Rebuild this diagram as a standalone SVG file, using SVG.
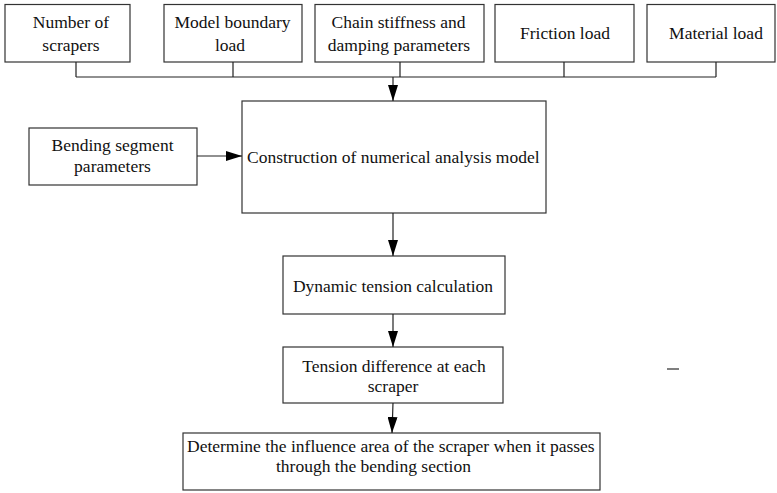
<svg xmlns="http://www.w3.org/2000/svg" width="777" height="493" viewBox="0 0 777 493">
<style>
.box{fill:#fff;stroke:#333;stroke-width:1.2}
text{font-family:'Liberation Serif', 'Times New Roman', Times, 'DejaVu Serif', serif;font-size:17.5px;fill:#111}
.c{text-anchor:middle}
.ln{fill:none;stroke:#222;stroke-width:1.2}
</style>
<defs>
<marker id="ah" markerWidth="16" markerHeight="10" refX="16" refY="5" viewBox="0 0 16 10" markerUnits="userSpaceOnUse" orient="auto">
<path d="M0,0 L16,5 L0,10 Z" fill="#000"/>
</marker>
</defs>
<rect width="777" height="493" fill="#fff"/>
<g id="n1"><rect class="box" x="5" y="4.5" width="125" height="57.5"/><text class="c" x="71" y="28">Number of</text><text class="c" x="71" y="51">scrapers</text></g>
<g id="n2"><rect class="box" x="164" y="4.5" width="138" height="57.5"/><text class="c" x="232.5" y="28">Model boundary</text><text class="c" x="230" y="51">load</text></g>
<g id="n3"><rect class="box" x="315" y="4.5" width="169" height="57.5"/><text class="c" x="398.5" y="28">Chain stiffness and</text><text class="c" x="399" y="51">damping parameters</text></g>
<g id="n4"><rect class="box" x="495" y="4.5" width="139" height="57.5"/><text class="c" x="565" y="39">Friction load</text></g>
<g id="n5"><rect class="box" x="647" y="4.5" width="128" height="57.5"/><text class="c" x="716" y="39">Material load</text></g>
<g id="n6"><rect class="box" x="29" y="128" width="168" height="57"/><text class="c" x="112.5" y="151">Bending segment</text><text class="c" x="112.5" y="172">parameters</text></g>
<g id="n7"><rect class="box" x="242" y="101" width="304" height="112"/><text x="247" y="163">Construction of numerical analysis model</text></g>
<g id="n8"><rect class="box" x="283" y="256" width="222" height="58"/><text class="c" x="393" y="292">Dynamic tension calculation</text></g>
<g id="n9"><rect class="box" x="283" y="347" width="220" height="56"/><text class="c" x="394" y="372">Tension difference at each</text><text class="c" x="393" y="392">scraper</text></g>
<g id="n10"><rect class="box" x="183" y="433" width="417" height="57"/><text x="187" y="452">Determine the influence area of the scraper when it passes</text><text x="276" y="472">through the bending section</text></g>
<g id="connectors">
<path class="ln" d="M76,62 V77 M233,62 V77 M400,62 V77 M564,62 V77 M716,62 V77 M76,77 H716"/>
<line class="ln" x1="393" y1="77" x2="393" y2="101" marker-end="url(#ah)"/>
<line class="ln" x1="197" y1="156" x2="242" y2="156" marker-end="url(#ah)"/>
<line class="ln" x1="393" y1="213" x2="393" y2="256" marker-end="url(#ah)"/>
<line class="ln" x1="393" y1="314" x2="393" y2="347" marker-end="url(#ah)"/>
<line class="ln" x1="393" y1="403" x2="392" y2="433" marker-end="url(#ah)"/>
</g>
<line x1="667" y1="369" x2="679" y2="369" stroke="#555" stroke-width="1.5"/>
</svg>
